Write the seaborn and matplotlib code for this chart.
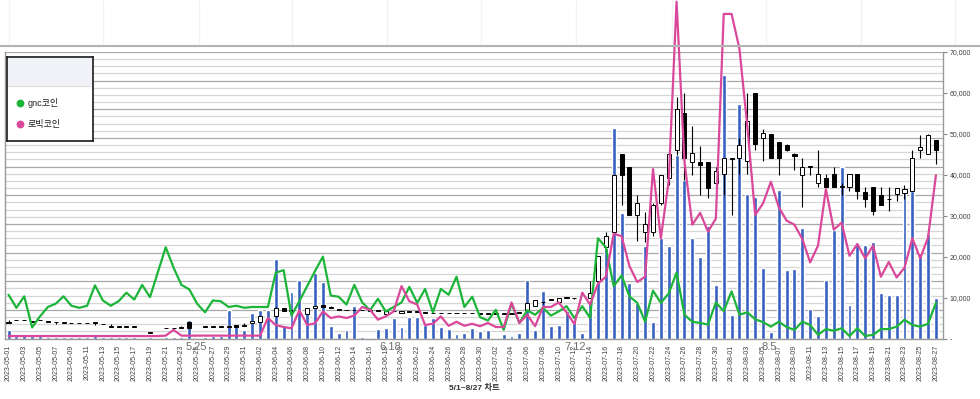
import numpy as np
import pandas as pd
import matplotlib
matplotlib.use("Agg")
import matplotlib.pyplot as plt
import seaborn as sns
from matplotlib.lines import Line2D
from matplotlib.patches import Rectangle

nan = np.nan

# ---------------- data (values in thousands) ----------------
dates = pd.date_range("2023-05-01", "2023-08-27", freq="D")
date_labels = list(dates.strftime("%Y-%m-%d"))

gnc_k = [10.7, 7.5, 10.3, 2.7, 5.4, 7.7, 8.5, 10.3, 8.0, 7.5,
         8.0, 13.0, 9.3, 8.0, 9.1, 11.2, 9.5, 13.1, 10.1, 16.2,
         22.3, 17.3, 13.1, 12.0, 8.5, 6.4, 9.3, 9.1, 7.7, 8.0,
         7.5, 7.7, 7.7, 7.7, 16.1, 16.7, 5.6, 9.1, 12.8, 16.5,
         20.0, 10.5, 10.2, 8.3, 13.1, 8.8, 6.9, 9.7, 6.6, 7.7,
         8.8, 12.6, 8.7, 12.1, 6.4, 12.1, 10.7, 15.1, 7.7, 10.2,
         5.2, 4.4, 7.0, 2.1, 8.5, 3.8, 6.9, 5.8, 7.5, 5.6,
         6.6, 7.9, 5.0, 7.9, 5.0, 24.5, 22.3, 12.8, 15.4, 10.3,
         8.7, 4.1, 11.7, 8.7, 11.0, 16.1, 5.8, 4.1, 3.8, 3.4,
         8.8, 6.7, 11.5, 5.8, 6.4, 4.7, 4.0, 2.9, 4.1, 2.8,
         2.1, 4.1, 3.3, 0.9, 2.3, 1.9, 2.5, 0.6, 2.5, 0.6,
         0.9, 2.3, 2.3, 2.9, 4.6, 3.3, 2.9, 3.6, 8.7]

robic_k = [0.6, 0.6, 0.6, 0.6, 0.6, 0.6, 0.6, 0.6, 0.6, 0.6,
           0.6, 0.6, 0.6, 0.6, 0.6, 0.6, 0.6, 0.6, 0.6, 0.6,
           0.7, 2.1, 0.7, 0.7, 0.7, 0.7, 0.7, 0.7, 0.7, 0.7,
           0.7, 0.7, 0.7, 5.0, 3.3, 2.8, 2.5, 6.9, 3.3, 3.7,
           6.6, 5.0, 5.4, 5.0, 5.6, 7.7, 7.0, 4.6, 5.4, 6.6,
           12.8, 9.1, 8.3, 3.3, 3.6, 5.4, 3.1, 4.1, 3.1, 3.6,
           3.0, 3.8, 2.8, 2.8, 8.8, 3.8, 5.8, 3.0, 7.7, 7.7,
           8.8, 6.4, 3.5, 11.2, 8.3, 13.4, 15.1, 25.6, 25.0, 17.7,
           13.8, 15.1, 41.4, 24.5, 38.5, 82.3, 43.3, 27.8, 30.7, 26.1,
           29.3, 79.3, 79.3, 70.8, 51.9, 30.2, 33.0, 38.3, 32.1, 28.8,
           27.8, 24.3, 18.6, 22.7, 36.5, 26.6, 28.3, 20.2, 23.1, 19.6,
           22.7, 15.1, 18.7, 14.9, 17.3, 24.5, 19.6, 24.7, 39.9]

volume_k = [2.0, 0.6, 1.0, 0.7, 0.6, 0.3, 0.3, 0.3, 0.3, 0.3,
            0.3, 0.6, 0.3, 0.3, 0.3, 0.3, 0.3, 0.0, 0.3, 0.0,
            0.3, 0.3, 0.3, 4.5, 0.0, 0.3, 0.5, 0.5, 6.9, 3.1,
            2.1, 6.2, 6.9, 6.9, 19.4, 3.3, 11.3, 14.3, 7.0, 15.9,
            13.8, 3.1, 1.3, 2.1, 7.9, 0.4, 0.1, 2.3, 2.5, 5.0,
            2.9, 5.2, 5.2, 3.3, 5.0, 2.9, 2.3, 1.1, 1.4, 2.5,
            1.9, 2.1, 0.1, 1.1, 0.6, 1.3, 14.4, 2.1, 11.6, 3.1,
            3.3, 6.6, 4.0, 1.3, 8.7, 17.0, 22.0, 51.5, 30.7, 13.6,
            8.7, 22.7, 4.1, 24.5, 22.7, 44.9, 38.7, 24.5, 20.0, 27.6,
            13.0, 64.5, 5.8, 57.4, 35.2, 34.6, 17.3, 1.7, 36.2, 16.7,
            16.9, 27.0, 7.2, 5.4, 14.4, 26.4, 41.8, 8.3, 23.3, 22.8,
            23.5, 11.0, 10.7, 10.7, 36.0, 36.0, 21.0, 25.6, 9.9]

open_k = [3.9, 4.4, 4.4, 4.1, 4.4, 4.1, 4.0, 3.9, 3.7, 3.7,
          3.7, 3.8, 3.5, 2.9, 2.9, 2.9, 2.9, nan, 1.4, nan,
          2.5, 2.5, 2.6, 4.1, nan, 2.9, 2.9, 2.9, 2.9, 3.3,
          3.1, 3.7, 4.1, nan, 5.4, 7.4, 6.8, nan, 5.9, 7.5,
          8.3, 7.6, 7.0, 6.9, 6.9, 6.9, 6.8, 6.8, 6.0, 6.6,
          6.3, 6.5, 6.5, 6.3, 6.2, 6.2, 6.2, 6.2, 6.2, 6.2,
          6.1, 6.1, 6.1, 6.1, 6.1, 6.3, 7.0, 8.0, 8.9, 9.5,
          9.0, 9.9, 9.8, nan, 9.9, 14.0, 22.3, 26.0, 45.1, 42.0,
          30.1, 26.0, 26.0, 33.2, 39.1, 46.1, 55.2, 43.1, 43.1, 43.1,
          37.9, 40.1, 43.9, 44.2, 43.3, 60.0, 49.0, 50.0, 47.9, 47.2,
          45.1, 40.0, 42.0, 37.9, 39.1, 40.1, 37.1, 37.1, 40.1, 35.9,
          37.1, 35.0, 34.0, 35.4, 35.6, 36.0, 46.1, 45.1, 48.6]

close_k = [3.9, 4.4, 4.4, 4.1, 4.4, 4.1, 4.0, 3.9, 3.7, 3.7,
           3.7, 3.8, 3.5, 2.9, 2.9, 2.9, 2.9, nan, 1.4, nan,
           2.5, 2.5, 2.6, 2.5, nan, 2.9, 2.9, 2.9, 2.9, 2.9,
           3.4, 4.2, 5.4, nan, 7.5, 6.8, 6.9, nan, 7.4, 8.0,
           7.6, 7.5, 7.0, 6.9, 6.9, 6.9, 6.8, 6.8, 6.6, 6.6,
           6.7, 6.5, 6.5, 6.3, 6.2, 6.2, 6.2, 6.2, 6.2, 6.2,
           6.1, 6.1, 6.1, 6.1, 6.1, 6.3, 8.7, 9.3, 8.9, 9.5,
           9.9, 9.9, 9.8, nan, 11.0, 20.2, 25.0, 40.0, 40.0, 30.1,
           33.2, 28.0, 32.5, 40.0, 45.1, 56.0, 44.2, 45.3, 42.3, 36.8,
           40.9, 44.1, 43.9, 47.2, 53.1, 47.5, 50.2, 44.2, 44.2, 46.1,
           44.5, 42.0, 42.0, 40.1, 37.1, 37.1, 37.3, 40.1, 36.0, 34.2,
           31.1, 32.5, 34.0, 36.7, 36.5, 44.1, 46.7, 49.7, 46.1]

high_k = [4.6, 4.4, 4.4, 4.1, 4.4, 4.1, 4.0, 3.9, 3.7, 3.7,
          3.7, 3.8, 3.5, 3.5, 2.9, 2.9, 2.9, nan, 1.4, nan,
          2.5, 2.5, 3.1, 4.1, nan, 2.9, 2.9, 2.9, 2.9, 3.3,
          3.9, 4.2, 5.6, nan, 7.6, 7.4, 6.9, nan, 7.4, 8.0,
          8.3, 7.9, 7.0, 6.9, 6.9, 6.9, 6.8, 6.8, 6.6, 6.6,
          6.7, 6.5, 6.5, 6.3, 6.2, 6.2, 6.2, 6.2, 6.2, 6.2,
          6.1, 6.1, 6.1, 6.1, 6.1, 6.3, 8.7, 9.3, 8.9, 9.5,
          9.9, 9.9, 9.9, nan, 14.0, 20.2, 26.0, 40.0, 45.1, 42.0,
          35.0, 30.9, 33.0, 40.0, 46.1, 59.1, 59.9, 52.0, 47.0, 43.1,
          42.0, 44.1, 43.9, 49.0, 59.9, 60.0, 51.1, 50.0, 47.9, 47.6,
          45.3, 44.1, 42.1, 46.1, 40.1, 42.0, 38.0, 40.1, 40.1, 37.1,
          37.1, 37.1, 37.1, 36.7, 37.6, 46.1, 49.8, 50.0, 48.6]

low_k = [3.9, 4.4, 4.4, 4.1, 4.4, 4.1, 3.5, 3.9, 3.7, 3.7,
         3.7, 3.3, 3.5, 2.9, 2.9, 2.9, 2.9, nan, 1.4, nan,
         2.5, 2.5, 2.6, 2.5, nan, 2.9, 2.9, 2.9, 2.9, 2.9,
         3.1, 3.7, 4.1, nan, 5.2, 6.8, 6.8, nan, 5.9, 7.5,
         7.6, 7.5, 7.0, 6.9, 6.9, 6.9, 6.8, 6.8, 6.0, 6.6,
         6.3, 6.5, 6.5, 6.3, 6.2, 6.2, 6.2, 6.2, 6.2, 6.2,
         6.1, 6.1, 6.1, 6.1, 6.1, 6.3, 7.0, 8.0, 8.4, 9.5,
         9.0, 9.9, 9.7, nan, 9.9, 14.0, 21.0, 26.0, 32.5, 30.1,
         23.9, 23.5, 25.0, 32.5, 37.5, 44.9, 38.7, 40.0, 35.0, 34.4,
         36.7, 35.0, 30.1, 40.1, 40.1, 46.1, 43.3, 44.2, 40.0, 45.8,
         41.2, 32.1, 40.0, 37.1, 37.1, 37.1, 35.0, 36.0, 34.2, 32.1,
         30.1, 32.5, 31.1, 33.5, 34.0, 36.0, 44.1, 45.1, 42.6]

series_names = ["gnc코인", "로빅코인"]
y_tick_values = [0, 10000, 20000, 30000, 40000, 50000, 60000, 70000]
y_tick_labels = ["-", "10,000", "20,000", "30,000", "40,000", "50,000", "60,000", "70,000"]
x_title = "5/1~8/27 차트"
notes = ["5.25", "6.18", "7.12", "8.5"]

# ---------------- style ----------------
sns.set_style("white")
plt.rcParams["font.family"] = ["Liberation Sans", "Noto Sans CJK KR", "DejaVu Sans"]

GREEN = "#1db43a"
PINK = "#d9489a"
BLUE = "#3761c0"

days = np.arange(len(dates))
gnc = np.array(gnc_k) * 1000
robic = np.array(robic_k) * 1000
vol = np.array(volume_k) * 1000
O = np.array(open_k) * 1000
C = np.array(close_k) * 1000
H = np.array(high_k) * 1000
Lo = np.array(low_k) * 1000

W_PX, H_PX = 980, 399
fig = plt.figure(figsize=(W_PX / 100, H_PX / 100), dpi=100)
fig.patch.set_facecolor("white")

left_px, right_px, top_px, bot_px = 5, 943, 52, 338.5
ax = fig.add_axes([left_px / W_PX, 1 - bot_px / H_PX,
                   (right_px - left_px) / W_PX, (bot_px - top_px) / H_PX])
ax.set_facecolor("white")

# gridlines (minor every 1750, major every 7000)
for v in np.arange(0, 70001, 1750):
    major = abs(v % 7000) < 1e-6
    ax.axhline(v, color="#a8a8a8" if major else "#d6d6d6", lw=0.9, zorder=0)

# volume bars
sns.barplot(x=days, y=vol, native_scale=True, width=0.5, color=BLUE,
            saturation=1, errorbar=None, ax=ax, zorder=2)

# candlesticks
valid = ~np.isnan(O)
xv = days[valid]
ov, cv, hv, lv = O[valid], C[valid], H[valid], Lo[valid]
ax.vlines(xv, lv, hv, color="black", lw=0.8, zorder=3)
bottom = np.minimum(ov, cv)
height = np.maximum(np.abs(cv - ov), 120)
faces = ["black" if c < o else "white" for o, c in zip(ov, cv)]
ax.bar(xv, height, bottom=bottom, width=0.52, color=faces,
       edgecolor="black", linewidth=0.7, zorder=3.5)

# lines
sns.lineplot(x=days, y=gnc, color=GREEN, lw=1.6, ax=ax, zorder=4, legend=False)
sns.lineplot(x=days, y=robic, color=PINK, lw=1.6, ax=ax, zorder=4,
             legend=False, clip_on=False)

ax.set_xlim(-0.45, 118.9)
ax.set_ylim(0, 70000)
ax.set_xlabel("")
ax.set_ylabel("")

ax.set_xticks(days[::2])
ax.set_xticklabels(date_labels[::2], rotation=90, fontsize=5, color="#404040")
ax.tick_params(axis="x", length=0, pad=4.5)

ax.yaxis.tick_right()
ax.set_yticks(y_tick_values)
ax.set_yticklabels(y_tick_labels)
ax.tick_params(axis="y", length=3, color="#888888", labelsize=5,
               labelcolor="#404040", pad=2, direction="out")

for side in ["left", "right", "bottom"]:
    ax.spines[side].set_visible(True)
    ax.spines[side].set_color("#999999")
    ax.spines[side].set_linewidth(1.0)
ax.spines["top"].set_visible(False)

# figure-level decorations
fig.add_artist(Line2D([0, 1], [1 - 46 / H_PX] * 2, transform=fig.transFigure,
                      color="#b3b3b3", lw=1.5))
for xp in [9, 103, 199, 292, 387, 481, 576, 672, 766, 861, 955]:
    fig.add_artist(Line2D([xp / W_PX] * 2, [1 - 44 / H_PX, 1.0],
                          transform=fig.transFigure, color="#f2f2f2", lw=1.0,
                          zorder=-1))

# axis title
fig.text(474 / W_PX, 1 - 388 / H_PX, x_title, ha="center", va="center",
         fontsize=6, fontweight="bold", color="#333333")

# date notes (overlaid on the date labels, as in the original)
for s, xp in zip(notes, [196, 390, 575, 769]):
    fig.text(xp / W_PX, 1 - 346.5 / H_PX, s, ha="center", va="center",
             fontsize=8, color="#6f6f6f", zorder=6)

# legend box
lg = fig.add_axes([6.7 / W_PX, 1 - 140.7 / H_PX, 86 / W_PX, 84 / H_PX])
lg.set_zorder(5)
lg.set_facecolor("white")
lg.set_xlim(0, 86)
lg.set_ylim(84, 0)
lg.set_xticks([])
lg.set_yticks([])
for sp in lg.spines.values():
    sp.set_visible(True)
    sp.set_color("#1a1a1a")
    sp.set_linewidth(1.2)
lg.add_patch(Rectangle((0, 0), 86, 29, color="#f1f2f7", zorder=0))
lg.axhline(29, color="#dcdcdc", lw=0.6)
for yy, name, col in [(46, series_names[0], GREEN), (67.3, series_names[1], PINK)]:
    lg.plot([13.3], [yy], "o", ms=4.6, color=col, mec=col)
    lg.text(20.6, yy, name, va="center", ha="left", fontsize=6.5, color="#222222")

fig.savefig("out.png", dpi=100, facecolor="white")
